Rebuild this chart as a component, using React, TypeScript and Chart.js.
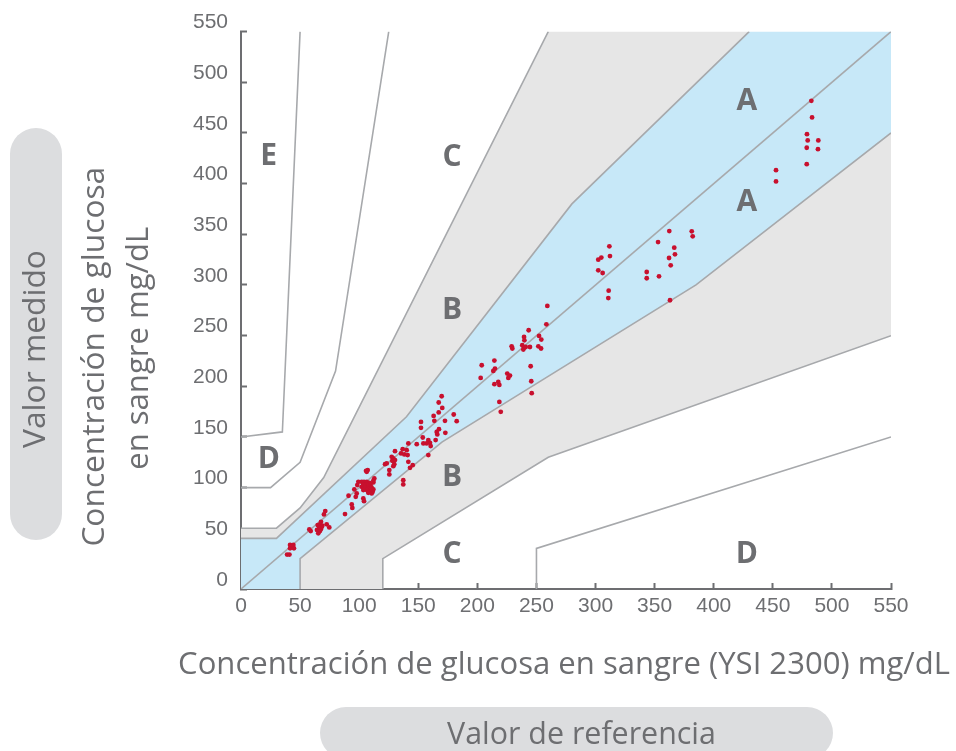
import React, { useEffect, useRef } from "react";
import { Chart, registerables } from "chart.js";

Chart.register(...registerables);

// ---- Data -------------------------------------------------------------
// Reference (YSI 2300) glucose, mg/dL
const referenceValues = [
  39, 41, 41.5, 44.3, 42.9, 41.5, 44.8,
  57.8, 59, 64.9, 66.8, 68.3, 66, 64.3, 66.8, 65.4, 67.7, 68.8, 67.7, 70.2, 71.3, 72.5, 74.7,
  88, 91, 94.2, 93.7, 95.9, 97.9, 97.1, 103.5, 104.1, 99.3, 98.4,
  102.1, 104.1, 106.4, 108.6, 103.5, 105.8, 107.7, 109.7, 102.1, 104.9, 107.7, 110.6, 112, 109.2, 106.4, 103.5, 111.4, 110.6, 107.7, 112, 112.8, 112, 106.4, 107.2, 105.8,
  121.9, 123.3, 125.5, 125.5, 127.5, 128.9, 128, 130.3, 129.7, 128.9, 130.3, 136.8, 135.4, 138.2, 140.2, 141.6, 148.7, 141, 141.6, 143, 145.3, 137.3, 137.3,
  169.8, 167.3, 170.3, 167.3, 163, 163.6, 152.3, 152.3, 172.6, 180, 182.5, 165.6, 167.5, 166.1, 172.9, 164.7, 153.8, 158.5, 159.9, 157.1, 160.5, 154.3, 158.5,
  259.2, 258.4, 243.4, 239.5, 239.8, 252.2, 254.1, 238, 239.7, 238.9, 240.9, 244.5, 251.6, 253.9, 229, 229.6, 214.4, 203.7, 214.9, 213.5, 202.8, 225.3, 227.6, 226.2, 245.1, 217.7, 218.6, 214.4, 245.6, 246, 218.6, 219.8,
  311.7, 312.2, 302.3, 304.9, 302.3, 306, 311.1, 310.8, 352.9, 362.4, 366.6, 362.2, 367.2, 363.6, 343.3, 343.3, 353.7, 363, 381.4, 382.2,
  452.7, 452.7, 482.6, 483.2, 478.9, 479.5, 488.5, 478.7, 488.2, 478.7,
];
// Measured glucose, mg/dL
const measuredValues = [
  34, 34, 43.4, 43.4, 41.7, 40.1, 40.1,
  58.8, 57.2, 63.1, 63.8, 61.4, 59.8, 58.2, 57.2, 54.9, 59.1, 62.4, 66.3, 73.6, 76.9, 63.8, 60.8,
  73.9, 92, 80, 83.5, 98.3, 94.3, 91, 89.4, 86.7, 105.8, 102.5,
  105.8, 105.8, 105.8, 104.8, 103.2, 102.5, 102.5, 102.5, 100.8, 99.9, 99.3, 99.9, 98.3, 97.6, 97.6, 97.6, 95.9, 94.3, 94.9, 105.2, 109.1, 106.8, 115.6, 117.3, 116.6,
  123.2, 123.9, 117.3, 113.1, 130.4, 128.8, 126.5, 127.2, 123.2, 121.2, 136, 138, 133.8, 132.8, 137, 143.6, 142.9, 132.1, 125.5, 119.6, 122.2, 107.4, 103.2,
  190.2, 184, 178.7, 174.2, 170.8, 165.9, 164.9, 159, 165.9, 172.2, 165.6, 155, 157.7, 152.5, 154.1, 146.9, 149.5, 146.9, 144.2, 143.6, 141, 143.6, 132.1,
  279.3, 261.2, 255.3, 248.7, 245.4, 249.7, 246.1, 240.5, 238.2, 236.3, 238.8, 238.8, 239.5, 237.3, 239.5, 237.3, 225.4, 220.8, 217.5, 215.2, 208.3, 212.6, 210.6, 208.3, 219.8, 204.3, 201.4, 202.1, 205, 193.2, 184.6, 174.8,
  338.1, 328.5, 325, 327, 314.4, 311.8, 294.4, 287.1, 342.3, 353.2, 336.8, 326.6, 330.2, 319.4, 312.8, 306.6, 308.5, 284.9, 352.9, 348,
  413.3, 402.2, 481.7, 465.3, 448.8, 442.6, 442.6, 435.4, 434, 419.2,
];

// Axis ticks
const tickValues = [0, 50, 100, 150, 200, 250, 300, 350, 400, 450, 500, 550];
const axisMin = tickValues[0];
const axisMax = tickValues[tickValues.length - 1];

// Zone boundaries (error grid, type 1)
const identityX = [0, 550];
const identityY = [0, 550];
const zoneAUpperX = [0, 30, 140, 280, 430];
const zoneAUpperY = [50, 50, 170, 380, 550];
const zoneALowerX = [50, 50, 170, 385, 550];
const zoneALowerY = [0, 30, 145, 300, 450];
const zoneBUpperX = [0, 30, 50, 70, 260];
const zoneBUpperY = [60, 60, 80, 110, 550];
const zoneBLowerX = [120, 120, 260, 550];
const zoneBLowerY = [0, 30, 130, 250];
const zoneCUpperX = [0, 25, 50, 80, 125];
const zoneCUpperY = [100, 100, 125, 215, 550];
const zoneCLowerX = [250, 250, 550];
const zoneCLowerY = [0, 40, 150];
const zoneDUpperX = [0, 35, 50];
const zoneDUpperY = [150, 155, 550];

// Zone letters
const zoneLabels = ["A", "A", "B", "B", "C", "C", "D", "D", "E"];
const zoneLabelX = [428, 428, 178.5, 178.5, 178.5, 178.5, 23.5, 428, 23.3];
const zoneLabelY = [483.7, 383.4, 277, 112.3, 428.3, 36, 130.4, 36.7, 429];

// Texts
const xTitle = "Concentración de glucosa en sangre (YSI 2300) mg/dL";
const yTitleLines = ["Concentración de glucosa", "en sangre mg/dL"];
const xPillText = "Valor de referencia";
const yPillText = "Valor medido";

// ---- Helpers ------------------------------------------------------------
const pts = (xs: number[], ys: number[]) => xs.map((x, i) => ({ x, y: ys[i] }));
const rev = <T,>(a: T[]) => a.slice().reverse();

const GREY_TEXT = "#6d6e71";
const LINE_GREY = "#a7a9ac";
const BLUE_FILL = "#c7e8f8";
const GREY_FILL = "#e6e6e6";
const PILL = "#dcdddf";
const POINT_RED = "#c8102e";

function fitSize(ctx: CanvasRenderingContext2D, text: string, font: string, target: number) {
  ctx.font = `100px ${font}`;
  const w = ctx.measureText(text).width;
  return (100 * target) / w;
}

const decorPlugin = {
  id: "decor",
  afterDatasetsDraw(chart: any) {
    const ctx: CanvasRenderingContext2D = chart.ctx;
    const xs = chart.scales.x;
    const ys = chart.scales.y;
    ctx.save();
    ctx.fillStyle = GREY_TEXT;
    ctx.font = `bold 30px "Open Sans"`;
    ctx.textAlign = "center";
    ctx.textBaseline = "alphabetic";
    zoneLabels.forEach((t, i) => {
      const px = xs.getPixelForValue(zoneLabelX[i]);
      const py = ys.getPixelForValue(zoneLabelY[i]);
      ctx.fillText(t, px, py + 0.357 * 30);
    });
    ctx.restore();
  },
  afterDraw(chart: any) {
    const ctx: CanvasRenderingContext2D = chart.ctx;
    const fam = `"Open Sans"`;
    ctx.save();
    // pills
    ctx.fillStyle = PILL;
    ctx.beginPath();
    (ctx as any).roundRect(10, 128, 52, 412, 26);
    ctx.fill();
    ctx.beginPath();
    (ctx as any).roundRect(320, 707, 513, 52, 26);
    ctx.fill();

    ctx.fillStyle = GREY_TEXT;
    ctx.textAlign = "center";
    ctx.textBaseline = "alphabetic";

    // x title
    let s = fitSize(ctx, xTitle, fam, 772);
    ctx.font = `${s}px ${fam}`;
    ctx.fillText(xTitle, 564, 674);

    // x pill text
    s = fitSize(ctx, xPillText, fam, 269);
    ctx.font = `${s}px ${fam}`;
    ctx.fillText(xPillText, 581.5, 744);

    // y pill text (rotated)
    s = fitSize(ctx, yPillText, fam, 198);
    ctx.save();
    ctx.translate(45, 349);
    ctx.rotate(-Math.PI / 2);
    ctx.font = `${s}px ${fam}`;
    ctx.fillText(yPillText, 0, 0);
    ctx.restore();

    // y title lines
    const yl = [
      { bx: 104, cy: 356.7, w: 380 },
      { bx: 148, cy: 348.3, w: 243 },
    ];
    yTitleLines.forEach((t, i) => {
      const sz = fitSize(ctx, t, fam, yl[i].w);
      ctx.save();
      ctx.translate(yl[i].bx, yl[i].cy);
      ctx.rotate(-Math.PI / 2);
      ctx.font = `${sz}px ${fam}`;
      ctx.fillText(t, 0, 0);
      ctx.restore();
    });
    ctx.restore();
  },
};

export default function App() {
  const ref = useRef<HTMLCanvasElement | null>(null);

  useEffect(() => {
    if (!ref.current) return;

    const lineDs = (xs: number[], ys: number[]) => ({
      data: pts(xs, ys),
      borderColor: LINE_GREY,
      borderWidth: 1.6,
      pointRadius: 0,
      fill: false,
      showLine: true,
    });
    const shapeDs = (data: { x: number; y: number }[], color: string) => ({
      data,
      borderColor: "rgba(0,0,0,0)",
      borderWidth: 0,
      backgroundColor: color,
      pointRadius: 0,
      fill: "shape",
      showLine: true,
    });

    const blueZone = [
      { x: axisMin, y: axisMin },
      ...pts(zoneAUpperX, zoneAUpperY),
      { x: axisMax, y: axisMax },
      ...rev(pts(zoneALowerX, zoneALowerY)),
    ];
    const greyUpper = [...pts(zoneAUpperX, zoneAUpperY), ...rev(pts(zoneBUpperX, zoneBUpperY))];
    const greyLower = [...pts(zoneALowerX, zoneALowerY), ...rev(pts(zoneBLowerX, zoneBLowerY))];

    const tickFont = { family: '"Liberation Sans", Arial, sans-serif', size: 21 };

    const chart = new Chart(ref.current, {
      type: "line",
      data: {
        datasets: [
          {
            data: pts(referenceValues, measuredValues),
            showLine: false,
            pointRadius: 2.4,
            pointBorderWidth: 0,
            pointBackgroundColor: POINT_RED,
            borderColor: POINT_RED,
            fill: false,
          },
          lineDs(identityX, identityY),
          lineDs(zoneAUpperX, zoneAUpperY),
          lineDs(zoneALowerX, zoneALowerY),
          lineDs(zoneBUpperX, zoneBUpperY),
          lineDs(zoneBLowerX, zoneBLowerY),
          lineDs(zoneCUpperX, zoneCUpperY),
          lineDs(zoneCLowerX, zoneCLowerY),
          lineDs(zoneDUpperX, zoneDUpperY),
          shapeDs(blueZone, BLUE_FILL),
          shapeDs(greyUpper, GREY_FILL),
          shapeDs(greyLower, GREY_FILL),
        ] as any,
      },
      options: {
        animation: false,
        responsive: false,
        events: [],
        layout: { padding: { top: 31, right: 65, left: 0, bottom: 0 } },
        elements: { line: { tension: 0 } },
        plugins: {
          legend: { display: false },
          tooltip: { enabled: false },
        },
        scales: {
          x: {
            type: "linear",
            min: axisMin,
            max: axisMax,
            afterFit: (s: any) => {
              s.height = 162;
            },
            afterBuildTicks: (s: any) => {
              s.ticks = tickValues.map((v) => ({ value: v }));
            },
            ticks: {
              color: GREY_TEXT,
              font: tickFont,
              padding: 11,
              maxRotation: 0,
              autoSkip: false,
            },
            grid: {
              drawOnChartArea: false,
              drawTicks: true,
              tickLength: -6,
              tickWidth: 2,
              tickColor: GREY_TEXT,
            },
            border: { display: true, color: GREY_TEXT, width: 2 },
          },
          y: {
            type: "linear",
            min: axisMin,
            max: axisMax,
            afterFit: (s: any) => {
              s.width = 241;
            },
            afterBuildTicks: (s: any) => {
              s.ticks = tickValues.map((v) => ({ value: v }));
            },
            ticks: {
              color: GREY_TEXT,
              font: tickFont,
              padding: 19,
              labelOffset: -9,
              autoSkip: false,
            },
            grid: {
              drawOnChartArea: false,
              drawTicks: true,
              tickLength: -6,
              tickWidth: 2,
              tickColor: GREY_TEXT,
            },
            border: { display: true, color: GREY_TEXT, width: 2 },
          },
        },
      } as any,
      plugins: [decorPlugin as any],
    });

    return () => chart.destroy();
  }, []);

  return (
    <div style={{ position: "fixed", left: 0, top: 0, width: 956, height: 751, background: "#ffffff" }}>
      <canvas ref={ref} width={956} height={751} style={{ width: 956, height: 751 }} />
    </div>
  );
}
